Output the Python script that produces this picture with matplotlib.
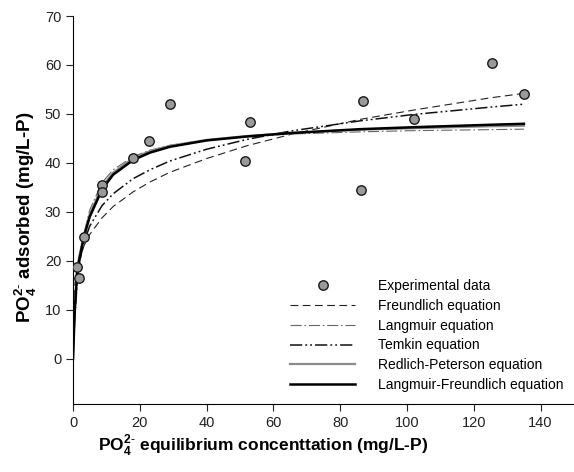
import numpy as np
import matplotlib
matplotlib.use('Agg')
import matplotlib.pyplot as plt

plt.rcParams['font.family'] = ['Liberation Sans', 'DejaVu Sans']
plt.rcParams['mathtext.fontset'] = 'custom'
plt.rcParams['mathtext.rm'] = 'Liberation Sans'
plt.rcParams['mathtext.bf'] = 'Liberation Sans:bold'

# experimental data
x_data = [1.2, 1.8, 3.3, 8.7, 8.7, 18.0, 22.9, 29.0, 51.4, 53.1, 86.2, 86.8, 102.1, 125.4, 135.1]
q_data = [18.7, 16.6, 24.8, 35.5, 34.1, 41.0, 44.4, 52.0, 40.4, 48.4, 34.4, 52.6, 49.0, 60.5, 54.1]

# fitted isotherms
x_fit = [0, 0.5, 1.2, 1.8, 3.3, 5, 8.7, 12, 18, 23, 29, 40, 52, 65, 86, 102, 125, 135]
freundlich = [0, 15.0, 18.3, 20.1, 23.1, 25.4, 28.8, 31.1, 34.1, 36.1, 38.1, 40.9, 43.5, 45.8, 48.9, 50.8, 53.3, 54.2]
langmuir = [0, 7.1, 14.1, 18.4, 25.6, 30.4, 36.0, 38.6, 41.3, 42.6, 43.6, 44.7, 45.4, 45.9, 46.35, 46.6, 46.8, 46.9]
temkin = [0, 9.6, 16.2, 19.3, 23.9, 27.1, 31.3, 33.7, 36.8, 38.6, 40.4, 42.8, 44.8, 46.5, 48.6, 49.9, 51.4, 52.0]
redlich = [0, 10.5, 17.8, 20.6, 25.4, 29.5, 35.2, 38.0, 41.0, 42.4, 43.5, 44.7, 45.5, 46.1, 46.8, 47.1, 47.5, 47.6]
lang_fr = [0, 9.5, 17.2, 20.0, 25.0, 29.0, 34.6, 37.6, 40.6, 42.1, 43.3, 44.6, 45.4, 46.1, 46.9, 47.3, 47.8, 48.0]

fig = plt.figure(figsize=(5.74, 4.72), dpi=100)
ax = fig.add_axes([73/574, 68/472, 501/574, 388/472])

ax.plot(x_fit, freundlich, color='#222222', lw=0.8, dashes=(7, 4), label='Freundlich equation')
ax.plot(x_fit, langmuir, color='#666666', lw=0.8, dashes=(10, 2.5, 1.5, 2.5), label='Langmuir equation')
ax.plot(x_fit, temkin, color='#111111', lw=1.1, dashes=(8, 2, 1.2, 2, 1.2, 2), label='Temkin equation')
ax.plot(x_fit, redlich, color='#8a8a8a', lw=1.6, label='Redlich-Peterson equation')
ax.plot(x_fit, lang_fr, color='black', lw=1.8, label='Langmuir-Freundlich equation')
ax.plot(x_data, q_data, 'o', ms=6.8, mfc='#9a9a9a', mec='#1a1a1a', mew=1.0, ls='none',
        label='Experimental data', zorder=5)

ax.set_xlim(0, 150)
ax.set_ylim(-9.2, 70)
ax.set_xticks(range(0, 141, 20))
ax.set_yticks(range(0, 71, 10))
ax.spines['top'].set_visible(False)
ax.spines['right'].set_visible(False)
ax.tick_params(direction='out', length=5, width=0.8, labelsize=10.5, colors='#222222')

ax.set_xlabel(r'PO$_\mathbf{4}^\mathbf{2\text{-}}$ equilibrium concenttation (mg/L-P)',
              fontsize=12.5, fontweight='bold')
ax.set_ylabel(r'PO$_\mathbf{4}^\mathbf{2\text{-}}$ adsorbed (mg/L-P)',
              fontsize=13.5, fontweight='bold')
ax.xaxis.set_label_coords(0.379, -0.072)
ax.yaxis.set_label_coords(-0.068, 0.48)

h, l = ax.get_legend_handles_labels()
order = [5, 0, 1, 2, 3, 4]
ax.legend([h[i] for i in order], [l[i] for i in order], loc='upper left',
          bbox_to_anchor=(290/574, (472-279)/472), bbox_transform=fig.transFigure,
          frameon=False, fontsize=10, handlelength=4.7, handletextpad=1.6,
          labelspacing=0.42, borderpad=0, borderaxespad=0, numpoints=1)

fig.savefig('out.png', dpi=100)
